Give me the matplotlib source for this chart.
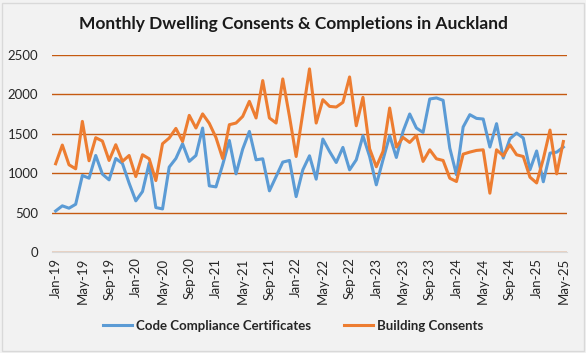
"""
Monthly dwelling consents and code compliance certificates, Auckland.
"""
import matplotlib.pyplot as plt
from matplotlib.patches import Rectangle
import pandas as pd

plt.rcParams['font.family'] = ['Lato', 'DejaVu Sans']

# Data
months = pd.date_range('2019-01-01', '2025-05-01', freq='MS').strftime('%b-%y').tolist()

ccc = [520, 585, 555, 605, 970, 935, 1223, 987, 914, 1185, 1121, 872,
       648, 766, 1126, 563, 546, 1076, 1185, 1372, 1148, 1223, 1571, 838,
       825, 1105, 1413, 990, 1304, 1528, 1168, 1181, 775, 956, 1139, 1160,
       702, 1041, 1219, 923, 1431, 1274, 1134, 1325, 1041, 1168, 1473, 1210,
       851, 1168, 1473, 1198, 1528, 1749, 1571, 1515, 1939, 1952, 1922, 1317,
       978, 1584, 1740, 1693, 1685, 1330, 1626, 1190, 1435, 1507, 1444, 1041,
       1280, 890, 1253, 1265, 1330]

consents = [1118, 1355, 1105, 1054, 1655, 1156, 1448, 1406, 1160, 1359, 1148, 1223,
            956, 1232, 1181, 905, 1372, 1444, 1566, 1401, 1731, 1571, 1750, 1630,
            1450, 1185, 1613, 1634, 1718, 1909, 1698, 2172, 1698, 1634, 2193, 1718,
            1210, 1761, 2320, 1634, 1930, 1845, 1837, 1896, 2218, 1600, 1960, 1308,
            1080, 1274, 1824, 1330, 1452, 1388, 1477, 1148, 1295, 1181, 1160, 935,
            893, 1240, 1266, 1287, 1295, 745, 1295, 1219, 1359, 1232, 1210, 948,
            875, 1180, 1545, 990, 1400]

series_labels = ['Code Compliance Certificates', 'Building Consents']
colors = ['#5B9BD5', '#ED7D31']
bg = '#F2F2F2'

fig = plt.figure(figsize=(5.86, 3.53), dpi=100, facecolor=bg)
ax = fig.add_axes([52.3 / 586, 1 - 252 / 353, (566.7 - 52.3) / 586, (252 - 54.7) / 353])
ax.set_facecolor(bg)

x = list(range(len(months)))
ax.plot(x, ccc, color=colors[0], linewidth=2.2, label=series_labels[0], solid_joinstyle='round')
ax.plot(x, consents, color=colors[1], linewidth=2.2, label=series_labels[1], solid_joinstyle='round')

ax.set_xlim(-0.5, len(months) - 0.5)
ax.set_ylim(0, 2500)
ax.set_yticks(range(0, 2501, 500))
ax.set_xticks(x[::4])
ax.set_xticklabels(months[::4], rotation=90, fontsize=9.5, color='#262626')
ax.tick_params(axis='y', labelsize=9.5, labelcolor='#262626', length=0, pad=10)
ax.tick_params(axis='x', length=0, pad=4)

ax.grid(axis='y', color='#C55A11', linewidth=1)
ax.set_axisbelow(True)
for side in ['top', 'right', 'left']:
    ax.spines[side].set_visible(False)
ax.spines['bottom'].set_color('#D9D9D9')
ax.spines['bottom'].set_zorder(0.5)

fig.text(0.5, 1 - 24 / 353, 'Monthly Dwelling Consents & Completions in Auckland',
         ha='center', va='center', fontsize=12.5, fontweight='bold', color='#1A1A1A')

fig.legend(loc='center', bbox_to_anchor=(0.5, 1 - 326 / 353), ncol=2, frameon=False,
           prop={'size': 9.5, 'weight': 'bold'}, handlelength=2.2, handletextpad=0.3,
           columnspacing=2.5, labelcolor='#262626')

fig.patches.append(Rectangle((2 / 586, 2 / 353), 582 / 586, 348 / 353, transform=fig.transFigure,
                             fill=False, edgecolor='#D9D9D9', linewidth=1))

fig.savefig('out.png', dpi=100, facecolor=bg)
